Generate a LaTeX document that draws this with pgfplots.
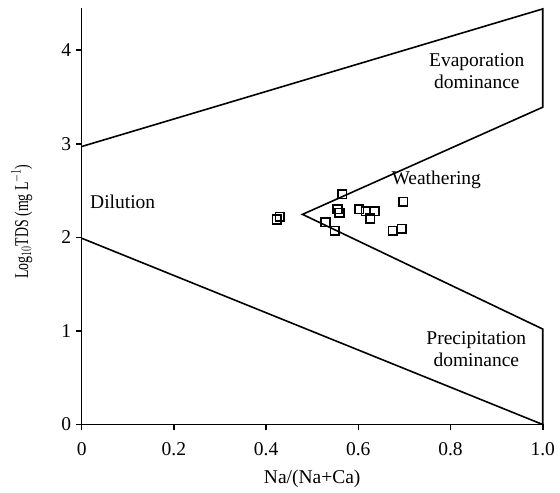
\documentclass[border=0pt]{standalone}
\usepackage{fontspec}
\setmainfont{Liberation Serif}
\usepackage{graphicx}
\usepackage{pgfplots}
\pgfplotsset{compat=1.18}
\begin{document}
\begin{tikzpicture}[font=\fontsize{19.5bp}{22bp}\selectfont]
\useasboundingbox (-81.7bp,-68.5bp) rectangle (478.3bp,424.5bp);
\begin{axis}[
  at={(0,0)}, anchor=origin,
  scale only axis, width=461bp, height=416.5bp,
  xmin=0, xmax=1, ymin=0, ymax=4.45,
  axis x line=bottom, axis y line=left,
  axis line style={-, line width=1.6bp},
  xtick={0,0.2,0.4,0.6,0.8,1.0},
  xticklabels={0,0.2,0.4,0.6,0.8,1.0},
  ytick={0,1,2,3,4},
  tick align=outside,
  major tick length=6bp,
  tick style={line width=1.6bp, black},
  /pgf/number format/assume math mode=true,
  xticklabel style={yshift=-9bp},
  yticklabel style={xshift=-1bp},
  xlabel={Na/(Na+Ca)},
  ylabel={\scalebox{0.71}[1]{Log$_{10}$TDS (mg L$^{-1}$)}},
  xlabel style={at={(axis description cs:0.5,-0.131)}, anchor=center},
  ylabel style={at={(axis description cs:-0.13,0.487)}, anchor=center},
  clip=false,
]
\addplot[black, line width=1.6bp] coordinates {(0,2.97) (1.0,4.44) (1.0,3.39) (0.479,2.245) (1.0,1.02) (1.0,0) (0,1.99)};
\addplot[only marks, mark=square, mark size=4.3bp, black, mark options={line width=1.6bp}] coordinates {
(0.423,2.19) (0.430,2.22) (0.565,2.46) (0.555,2.30) (0.559,2.26) (0.529,2.16) (0.549,2.07)
(0.602,2.30) (0.616,2.28) (0.636,2.28) (0.626,2.20) (0.697,2.38) (0.675,2.07) (0.694,2.09)};
\node[align=center] at (axis cs:0.857,3.77) {Evaporation\\dominance};
\node at (axis cs:0.769,2.61) {Weathering};
\node at (axis cs:0.089,2.38) {Dilution};
\node[align=center] at (axis cs:0.856,0.80) {Precipitation\\dominance};
\end{axis}
\end{tikzpicture}
\end{document}
